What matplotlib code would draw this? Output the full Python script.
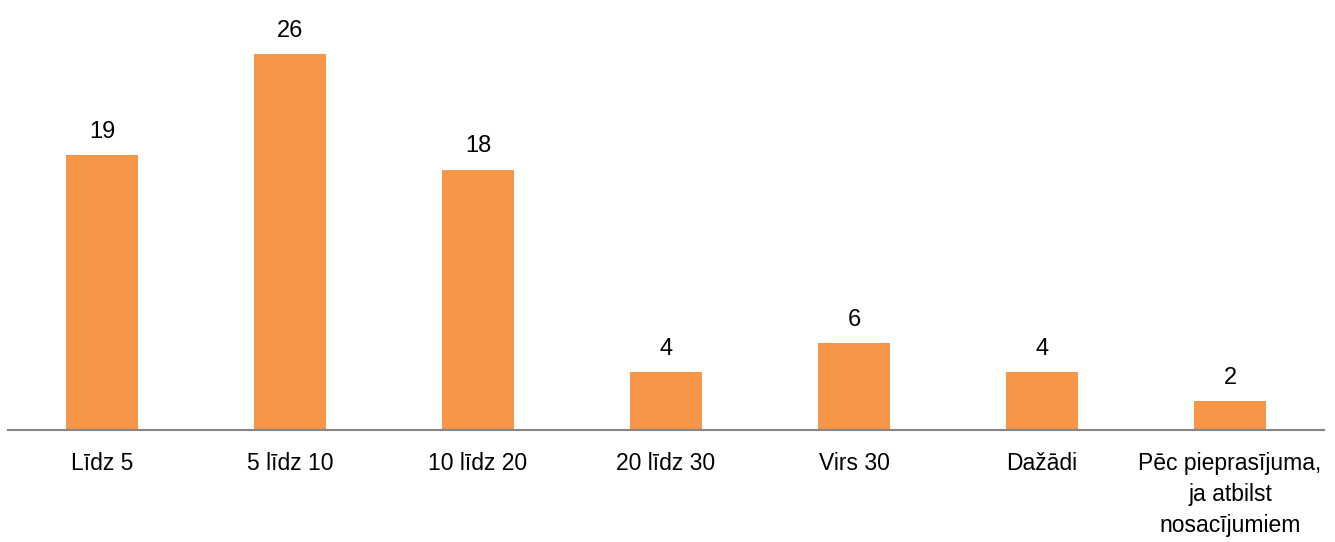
import matplotlib.pyplot as plt
from matplotlib import font_manager

categories = ['Līdz 5', '5 līdz 10', '10 līdz 20', '20 līdz 30', 'Virs 30', 'Dažādi',
              'Pēc pieprasījuma,\nja atbilst\nnosacījumiem']
values = [19, 26, 18, 4, 6, 4, 2]

names = {f.name for f in font_manager.fontManager.ttflist}
fam = ['Liberation Sans Narrow', 'Liberation Sans', 'DejaVu Sans']
fam = [f for f in fam if f in names] or ['DejaVu Sans']
plt.rcParams['font.family'] = fam

fig = plt.figure(figsize=(13.35, 5.42), dpi=100)
ax = fig.add_axes([8/1335, 112/542, 1316/1335, 430/542])

x = range(len(categories))
bars = ax.bar(x, values, width=0.38, color='#F79646')
for b, v in zip(bars, values):
    ax.text(b.get_x() + b.get_width()/2, v + 0.85, str(v), ha='center', va='bottom', fontsize=17)

ax.set_xlim(-0.5, len(categories) - 0.5)
ax.set_ylim(0, 29.74)
ax.set_xticks(list(x))
ax.set_xticklabels(categories, fontsize=16.5, linespacing=1.45)
ax.tick_params(axis='x', length=0, pad=16)
ax.set_yticks([])
for s in ['top', 'right', 'left']:
    ax.spines[s].set_visible(False)
ax.spines['bottom'].set_color('#868686')
ax.spines['bottom'].set_linewidth(1.5)

fig.savefig('out.png', dpi=100)
